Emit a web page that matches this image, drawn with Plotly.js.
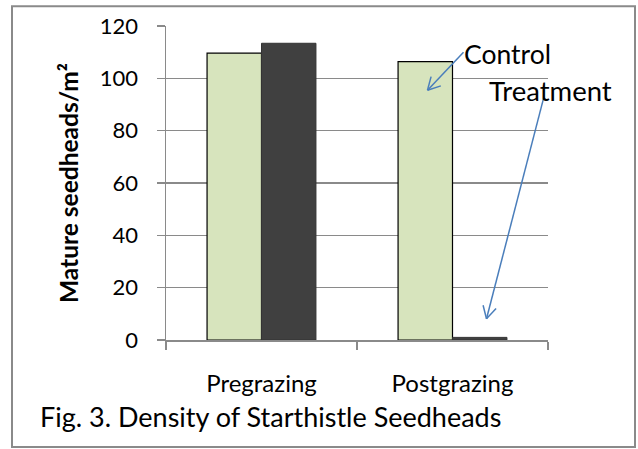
<!DOCTYPE html>
<html><head><meta charset="utf-8">
<script src="https://cdn.plot.ly/plotly-3.0.1.min.js"></script>
<style>html,body{margin:0;padding:0;background:#fff}#c{width:638px;height:449px}</style>
</head><body><div id="c"></div>
<script>
var categories = ["Pregrazing", "Postgrazing"];
var controlValues = [109.6, 106.4];
var treatmentValues = [113.4, 1];
var seriesNames = ["Control", "Treatment"];
var yTicks = [0, 20, 40, 60, 80, 100, 120];

var W = 638, H = 449;
var L = 166, R = 548, T = 25.7, B = 340.3;
function px(x){ return (x - L) / (R - L); }
function py(y){ return (B - y) / (B - T); }

var FONT = "Lato, 'Open Sans', sans-serif";
var blue = "#4a7ebb";

function arrowPath(x0, y0, x1, y1, len, ang){
  var dx = x0 - x1, dy = y0 - y1, d = Math.sqrt(dx*dx + dy*dy);
  dx /= d; dy /= d;
  function rot(a){ return [x1 + len*(dx*Math.cos(a) - dy*Math.sin(a)), y1 + len*(dx*Math.sin(a) + dy*Math.cos(a))]; }
  var a = rot(ang), b = rot(-ang);
  return [
    {type:"line", xref:"paper", yref:"paper", x0:px(x0), y0:py(y0), x1:px(x1), y1:py(y1), line:{color:blue, width:1.5}},
    {type:"line", xref:"paper", yref:"paper", x0:px(a[0]), y0:py(a[1]), x1:px(x1), y1:py(y1), line:{color:blue, width:1.5}},
    {type:"line", xref:"paper", yref:"paper", x0:px(b[0]), y0:py(b[1]), x1:px(x1), y1:py(y1), line:{color:blue, width:1.5}}
  ];
}

var shapes = [
  {type:"rect", xref:"paper", yref:"paper", x0:px(12), x1:px(635), y0:py(6), y1:py(447.5), line:{color:"#8a8a8a", width:2}, layer:"below"}
].concat(arrowPath(463.5, 52, 427.5, 90, 14, 0.5)).concat(arrowPath(544, 96.5, 486.5, 319, 14, 0.5));

var data = [
  {type:"bar", name:seriesNames[0], x:categories, y:controlValues, marker:{color:"#d7e4bd", line:{color:"#000", width:1.2}}},
  {type:"bar", name:seriesNames[1], x:categories, y:treatmentValues, marker:{color:"#404040", line:{color:"#333", width:1}}}
];

var layout = {
  width:W, height:H,
  margin:{l:L, r:W-R, t:T, b:H-B},
  paper_bgcolor:"#fff", plot_bgcolor:"#fff",
  showlegend:false,
  barmode:"group", bargap:0.43, bargroupgap:0,
  font:{family:FONT, color:"#000"},
  xaxis:{type:"category", showline:true, linecolor:"#8a8a8a", linewidth:1.5, ticks:"outside", tickson:"boundaries", ticklen:8, tickcolor:"#8a8a8a", tickwidth:1.5, tickfont:{size:24, family:FONT}, ticklabelstandoff:22, showgrid:false, zeroline:false},
  yaxis:{range:[0,120], tickvals:yTicks, showline:true, linecolor:"#8a8a8a", linewidth:1.5, ticks:"outside", ticklen:8, tickcolor:"#8a8a8a", tickwidth:1.5, showgrid:true, gridcolor:"#8a8a8a", gridwidth:1.5, zeroline:false, tickfont:{size:22, family:FONT}, ticklabelstandoff:14,
    title:{text:"<b>Mature seedheads/m²</b>", font:{size:24.5, family:FONT}, standoff:14}},
  shapes:shapes,
  annotations:[
    {xref:"paper", yref:"paper", x:px(462), y:py(54), xanchor:"left", yanchor:"middle", text:"Control", showarrow:false, font:{size:26.5, family:FONT}},
    {xref:"paper", yref:"paper", x:px(487), y:py(90), xanchor:"left", yanchor:"middle", text:"Treatment", showarrow:false, font:{size:27.5, family:FONT}},
    {xref:"paper", yref:"paper", x:px(38), y:py(417), xanchor:"left", yanchor:"middle", text:"Fig. 3. Density of Starthistle Seedheads", showarrow:false, font:{size:27, family:FONT}}
  ]
};
Plotly.newPlot("c", data, layout, {displayModeBar:false, staticPlot:true});
</script></body></html>
